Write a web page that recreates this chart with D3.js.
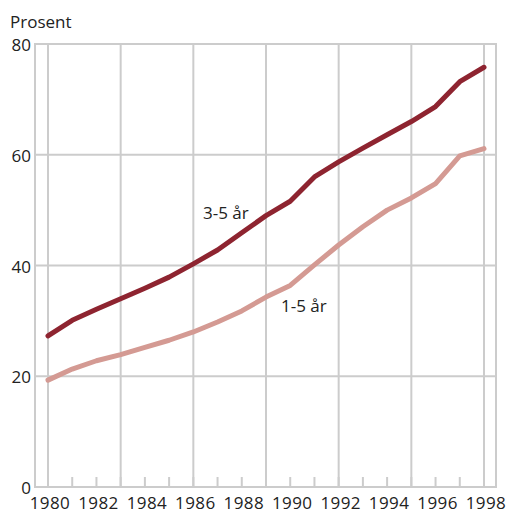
<!DOCTYPE html>
<html>
<head>
<meta charset="utf-8">
<script src="https://cdn.jsdelivr.net/npm/d3@7"></script>
<style>
  body { margin: 0; background: #fff; }
  text { font-family: "Open Sans", "Noto Sans", sans-serif; fill: #222; }
</style>
</head>
<body>
<div id="chart"></div>
<script>
// data
const years = d3.range(1980, 1999);
const age35 = [27.3, 30.1, 32.1, 34.0, 35.9, 37.9, 40.3, 42.8, 45.9, 49.0, 51.6, 56.0, 58.7, 61.2, 63.6, 66.0, 68.7, 73.2, 75.8];
const age15 = [19.3, 21.3, 22.8, 23.9, 25.2, 26.5, 28.0, 29.8, 31.8, 34.3, 36.4, 40.1, 43.7, 47.0, 50.0, 52.2, 54.8, 59.8, 61.1];
const yTicks = [0, 20, 40, 60, 80];
const xLabels = [1980, 1982, 1984, 1986, 1988, 1990, 1992, 1994, 1996, 1998];
const majorYears = [1980, 1983, 1986, 1989, 1992, 1995, 1998];

const W = 506, H = 513;
const frame = {left: 35, right: 496, top: 44, bottom: 487};

const svg = d3.select("#chart")
  .append("svg")
    .attr("width", W)
    .attr("height", H);

let x = d3.scaleLinear()
  .domain([1980, 1998])
  .range([48, 484]);

let y = d3.scaleLinear()
  .domain([0, 80])
  .range([frame.bottom, frame.top]);

const grey = "#cccccc";

// horizontal gridlines
svg.append("g")
  .selectAll("line")
  .data(yTicks.slice(1, -1))
  .enter()
  .append("line")
    .attr("x1", frame.left)
    .attr("x2", frame.right)
    .attr("y1", d => y(d))
    .attr("y2", d => y(d))
    .style("stroke", grey)
    .style("stroke-width", 2);

// vertical gridlines every third year
svg.append("g")
  .selectAll("line")
  .data(majorYears)
  .enter()
  .append("line")
    .attr("x1", d => x(d))
    .attr("x2", d => x(d))
    .attr("y1", frame.top)
    .attr("y2", frame.bottom)
    .style("stroke", grey)
    .style("stroke-width", 2);

// small ticks at every year
svg.append("g")
  .selectAll("line")
  .data(years)
  .enter()
  .append("line")
    .attr("x1", d => x(d))
    .attr("x2", d => x(d))
    .attr("y1", frame.bottom - 10)
    .attr("y2", frame.bottom)
    .style("stroke", grey)
    .style("stroke-width", 2);

// frame
svg.append("rect")
  .attr("x", frame.left)
  .attr("y", frame.top)
  .attr("width", frame.right - frame.left)
  .attr("height", frame.bottom - frame.top)
  .style("fill", "none")
  .style("stroke", grey)
  .style("stroke-width", 2);

// y labels
svg.append("g")
  .selectAll("text")
  .data(yTicks)
  .enter()
  .append("text")
    .attr("x", 31)
    .attr("y", d => y(d) + 7)
    .attr("text-anchor", "end")
    .style("font-size", "17px")
    .text(d => d);

// x labels
svg.append("g")
  .selectAll("text")
  .data(xLabels)
  .enter()
  .append("text")
    .attr("x", d => x(d) + 2)
    .attr("y", 509)
    .attr("text-anchor", "middle")
    .style("font-size", "17px")
    .style("letter-spacing", "0.4px")
    .text(d => d);

svg.append("text")
  .attr("x", 10)
  .attr("y", 28)
  .style("font-size", "17px")
  .text("Prosent");

// lines
let line = d3.line()
  .x((d, i) => x(years[i]))
  .y(d => y(d));

svg.append("path")
  .datum(age15)
  .attr("d", line)
  .style("fill", "none")
  .style("stroke", "#d49a93")
  .style("stroke-width", 5)
  .style("stroke-linejoin", "round")
  .style("stroke-linecap", "round");

svg.append("path")
  .datum(age35)
  .attr("d", line)
  .style("fill", "none")
  .style("stroke", "#8e2430")
  .style("stroke-width", 5)
  .style("stroke-linejoin", "round")
  .style("stroke-linecap", "round");

svg.append("text")
  .attr("x", 203)
  .attr("y", 219)
  .style("font-size", "17px")
  .text("3-5 år");

svg.append("text")
  .attr("x", 281)
  .attr("y", 312)
  .style("font-size", "17px")
  .text("1-5 år");
</script>
</body>
</html>
